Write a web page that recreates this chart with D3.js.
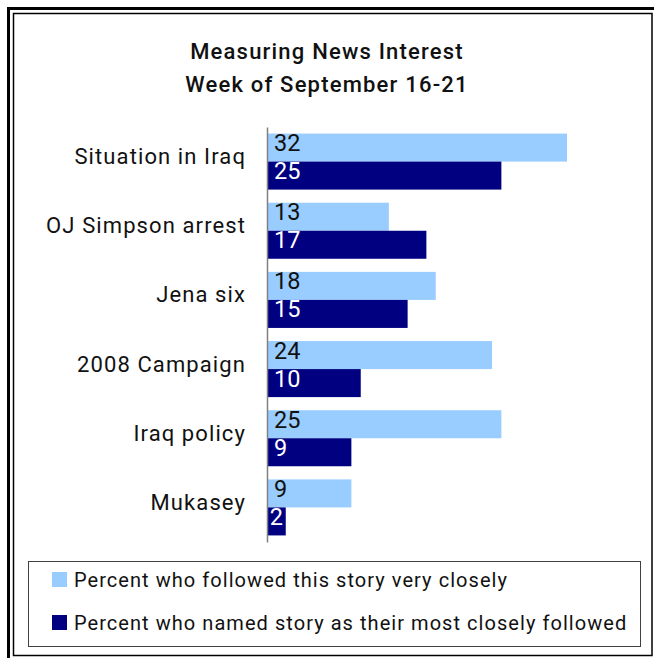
<!DOCTYPE html>
<html><head>
<meta charset="utf-8">
<title>Measuring News Interest</title>
<script src="https://d3js.org/d3.v7.min.js"></script>
<style>
  body { margin: 0; background: #fff; }
  text { font-family: Roboto, "Noto Sans", sans-serif; fill: #111; }
</style>
</head>
<body>
<div id="chart"></div>
<script>
    const svgWidth = 654;
    const svgHeight = 658;

    // data
    const stories = ["Situation in Iraq", "OJ Simpson arrest", "Jena six", "2008 Campaign", "Iraq policy", "Mukasey"];
    const veryClosely = [32, 13, 18, 24, 25, 9];
    const mostClosely = [25, 17, 15, 10, 9, 2];
    const seriesNames = ["Percent who followed this story very closely",
                         "Percent who named story as their most closely followed"];
    const seriesColors = ["#99ccff", "#000080"];
    const labelColors = ["#111", "#fff"];
    const titleLines = ["Measuring News Interest", "Week of September 16-21"];

    const svg = d3.select("#chart")
        .append("svg")
        .attr("width", svgWidth)
        .attr("height", svgHeight);

    // double frame
    svg.append("rect")
        .attr("x", 8.5).attr("y", 8.5)
        .attr("width", 680).attr("height", 680)
        .attr("fill", "none").attr("stroke", "#000").attr("stroke-width", 3);
    svg.append("rect")
        .attr("x", 13.5).attr("y", 13.5)
        .attr("width", 638.5).attr("height", 642)
        .attr("fill", "none").attr("stroke", "#000").attr("stroke-width", 1.5);

    // title
    svg.selectAll(".title")
        .data(titleLines)
        .enter().append("text")
        .attr("class", "title")
        .attr("x", 327)
        .attr("y", (d, i) => 59 + i * 33)
        .attr("text-anchor", "middle")
        .style("font-size", "22px")
        .style("font-weight", 500)
        .style("letter-spacing", "1.2px")
        .text(d => d);

    const xScale = d3.scaleLinear().domain([0, 32]).range([267, 567]);
    const yScale = d3.scaleBand().domain(stories).range([127, 542])
        .paddingInner(0.19).paddingOuter(0.095);
    const subScale = d3.scaleBand().domain([0, 1]).range([0, yScale.bandwidth()]);

    const rows = stories.map((s, i) => ({story: s, values: [veryClosely[i], mostClosely[i]]}));

    const groups = svg.selectAll(".group")
        .data(rows)
        .enter().append("g")
        .attr("class", "group")
        .attr("transform", d => "translate(0," + yScale(d.story) + ")");

    groups.selectAll("rect")
        .data(d => d.values)
        .enter().append("rect")
        .attr("x", xScale(0))
        .attr("y", (d, i) => subScale(i))
        .attr("width", d => xScale(d) - xScale(0))
        .attr("height", subScale.bandwidth())
        .attr("fill", (d, i) => seriesColors[i]);

    // values sit at the start of each bar (centred when the bar is too short)
    groups.selectAll(".val")
        .data(d => d.values)
        .enter().append("text")
        .attr("class", "val")
        .attr("x", d => (xScale(d) - xScale(0) < 30) ? (xScale(0) + xScale(d)) / 2 : xScale(0) + 7)
        .attr("text-anchor", d => (xScale(d) - xScale(0) < 30) ? "middle" : "start")
        .attr("y", (d, i) => subScale(i) + 17.5)
        .style("font-size", "23.5px")
        .style("fill", (d, i) => labelColors[i])
        .text(d => d);

    // category labels
    groups.append("text")
        .attr("x", 246)
        .attr("y", yScale.bandwidth() / 2 + 2.5)
        .attr("text-anchor", "end")
        .style("font-size", "22px")
        .style("letter-spacing", "1.1px")
        .text(d => d.story);

    // axis line
    svg.append("g")
        .attr("transform", "translate(" + xScale(0) + ",0)")
        .call(d3.axisLeft(yScale).tickSize(0).tickFormat(""))
        .call(g => g.select(".domain").attr("stroke", "#808080").attr("stroke-width", 1.5));

    // legend
    const legend = svg.append("g");
    legend.append("rect")
        .attr("x", 28.5).attr("y", 561.5)
        .attr("width", 612).attr("height", 85)
        .attr("fill", "none").attr("stroke", "#404040").attr("stroke-width", 1);

    const items = legend.selectAll(".item")
        .data(seriesNames)
        .enter().append("g")
        .attr("class", "item")
        .attr("transform", (d, i) => "translate(52," + (572 + i * 43) + ")");
    items.append("rect")
        .attr("width", 15).attr("height", 15)
        .attr("fill", (d, i) => seriesColors[i]);
    items.append("text")
        .attr("x", 22)
        .attr("y", 15)
        .style("font-size", "20px")
        .style("letter-spacing", "1.05px")
        .text(d => d);
</script>
</body></html>
